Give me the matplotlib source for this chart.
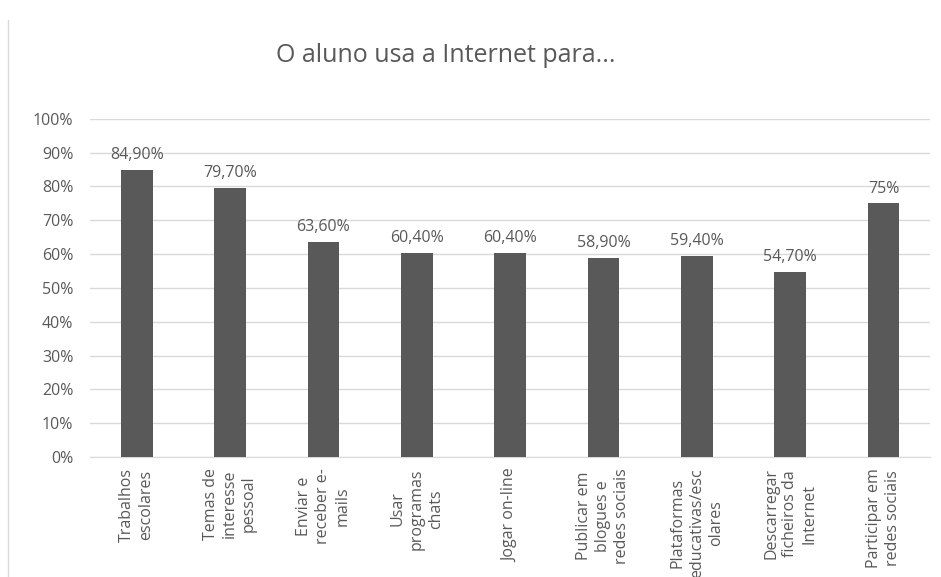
import matplotlib.pyplot as plt
from matplotlib.lines import Line2D

plt.rcParams['font.family'] = ['Open Sans', 'DejaVu Sans']

categories = [
    'Trabalhos\nescolares',
    'Temas de\ninteresse\npessoal',
    'Enviar e\nreceber e-\nmails',
    'Usar\nprogramas\nchats',
    'Jogar on-line',
    'Publicar em\nblogues e\nredes sociais',
    'Plataformas\neducativas/esc\nolares',
    'Descarregar\nficheiros da\nInternet',
    'Participar em\nredes sociais',
]
values = [84.9, 79.7, 63.6, 60.4, 60.4, 58.9, 59.4, 54.7, 75.0]
value_labels = ['84,90%', '79,70%', '63,60%', '60,40%', '60,40%',
                '58,90%', '59,40%', '54,70%', '75%']
yticks = [0, 10, 20, 30, 40, 50, 60, 70, 80, 90, 100]

txt = '#595959'
grid = '#d9d9d9'

fig = plt.figure(figsize=(9.41, 5.77), dpi=100)
ax = fig.add_axes([0.0956, 0.208, 0.893, 0.586])

x = range(len(values))
ax.bar(x, values, width=0.34, color='#595959', zorder=3)

for i, (v, lab) in enumerate(zip(values, value_labels)):
    ax.text(i, v + 2.0, lab, ha='center', va='bottom', fontsize=11.5, color=txt)

ax.set_xlim(-0.5, len(values) - 0.5)
ax.set_ylim(0, 100)
ax.set_yticks(yticks)
ax.set_yticklabels([f'{t}%' for t in yticks], fontsize=11.5, color=txt)
ax.set_xticks(list(x))
ax.set_xticklabels(categories, rotation=90, fontsize=11.5, color=txt,
                   va='top', ha='center', multialignment='center',
                   linespacing=1.25)
ax.tick_params(axis='y', length=0, pad=12)
ax.tick_params(axis='x', length=0, pad=8)

ax.grid(axis='y', color=grid, linewidth=1, zorder=0)
for s in ['top', 'right', 'left']:
    ax.spines[s].set_visible(False)
ax.spines['bottom'].set_color(grid)

fig.text(0.474, 0.903, 'O aluno usa a Internet para...', ha='center', va='center',
         fontsize=18, color=txt)

fig.add_artist(Line2D([0.0085, 0.0085], [0.0, 0.965], transform=fig.transFigure,
                      color=grid, linewidth=1))

fig.savefig('out.png', dpi=100)
